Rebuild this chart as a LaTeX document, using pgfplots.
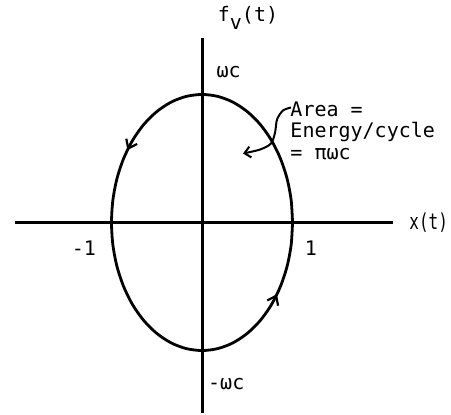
\documentclass[border=0pt]{standalone}
\usepackage{fontspec}
\setmainfont{DejaVu Sans Mono}
\usepackage{pgfplots}
\pgfplotsset{compat=1.18}
\usetikzlibrary{arrows.meta,decorations.markings}

\tikzset{lbl/.style={font=\fontsize{20}{22}\selectfont, inner sep=0pt}}

\begin{document}
\begin{tikzpicture}
\begin{axis}[
  scale only axis,
  width=451pt, height=413pt,
  xmin=-2.232, xmax=2.751,
  ymin=-1.488, ymax=1.738,
  hide axis,
  clip=false,
]
% keep the full plotting area as the picture's extent
\path (rel axis cs:0,0) rectangle (rel axis cs:1,1);

% coordinate axes
\addplot[black, line width=3pt] coordinates {(-2.066,0) (2.110,0)};
\addplot[black, line width=3pt] coordinates {(0,1.441) (0,-1.488)};

% hysteresis loop x(t), f_v(t), traversed counter-clockwise
\addplot[black, line width=2.8pt, smooth,
  postaction={decorate},
  decoration={markings,
    mark=at position 0.392 with {\arrow{Straight Barb[length=8pt,width=12pt,line width=2.2pt]}},
    mark=at position 0.893 with {\arrow{Straight Barb[length=8pt,width=12pt,line width=2.2pt]}}}]
  coordinates {
  (1,0) (0.985,0.174) (0.940,0.342) (0.866,0.5) (0.766,0.643) (0.643,0.766)
  (0.5,0.866) (0.342,0.940) (0.174,0.985) (0,1)
  (-0.174,0.985) (-0.342,0.940) (-0.5,0.866) (-0.643,0.766) (-0.766,0.643)
  (-0.866,0.5) (-0.940,0.342) (-0.985,0.174) (-1,0)
  (-0.985,-0.174) (-0.940,-0.342) (-0.866,-0.5) (-0.766,-0.643) (-0.643,-0.766)
  (-0.5,-0.866) (-0.342,-0.940) (-0.174,-0.985) (0,-1)
  (0.174,-0.985) (0.342,-0.940) (0.5,-0.866) (0.643,-0.766) (0.766,-0.643)
  (0.866,-0.5) (0.940,-0.342) (0.985,-0.174) (1,0)};

% pointer to the enclosed area
\addplot[black, line width=2pt, smooth,
  -{Straight Barb[length=6pt,width=11pt,line width=2pt]}]
  coordinates {(0.983,0.898) (0.895,0.875) (0.829,0.805) (0.807,0.703)
               (0.762,0.617) (0.641,0.570) (0.453,0.539)};

% labels
\node[lbl, anchor=center] at (axis cs:0.508,1.60) {f\raisebox{-8pt}{v}(t)};
\node[lbl, anchor=west] at (axis cs:0.160,1.172) {ωc};
\node[lbl, anchor=west] at (axis cs:0.066,-1.258) {-ωc};
\node[lbl, anchor=west] at (axis cs:2.290,0) {\scalebox{0.8}[1.1]{x(t)}};
\node[lbl, anchor=base] at (axis cs:-1.304,-0.254) {-1};
\node[lbl, anchor=base] at (axis cs:1.204,-0.254) {1};
\node[lbl, anchor=base west] at (axis cs:0.975,0.828) {Area =};
\node[lbl, anchor=base west] at (axis cs:0.975,0.664) {Energy/cycle};
\node[lbl, anchor=base west] at (axis cs:0.975,0.494) {= πωc};
\end{axis}
\end{tikzpicture}
\end{document}
